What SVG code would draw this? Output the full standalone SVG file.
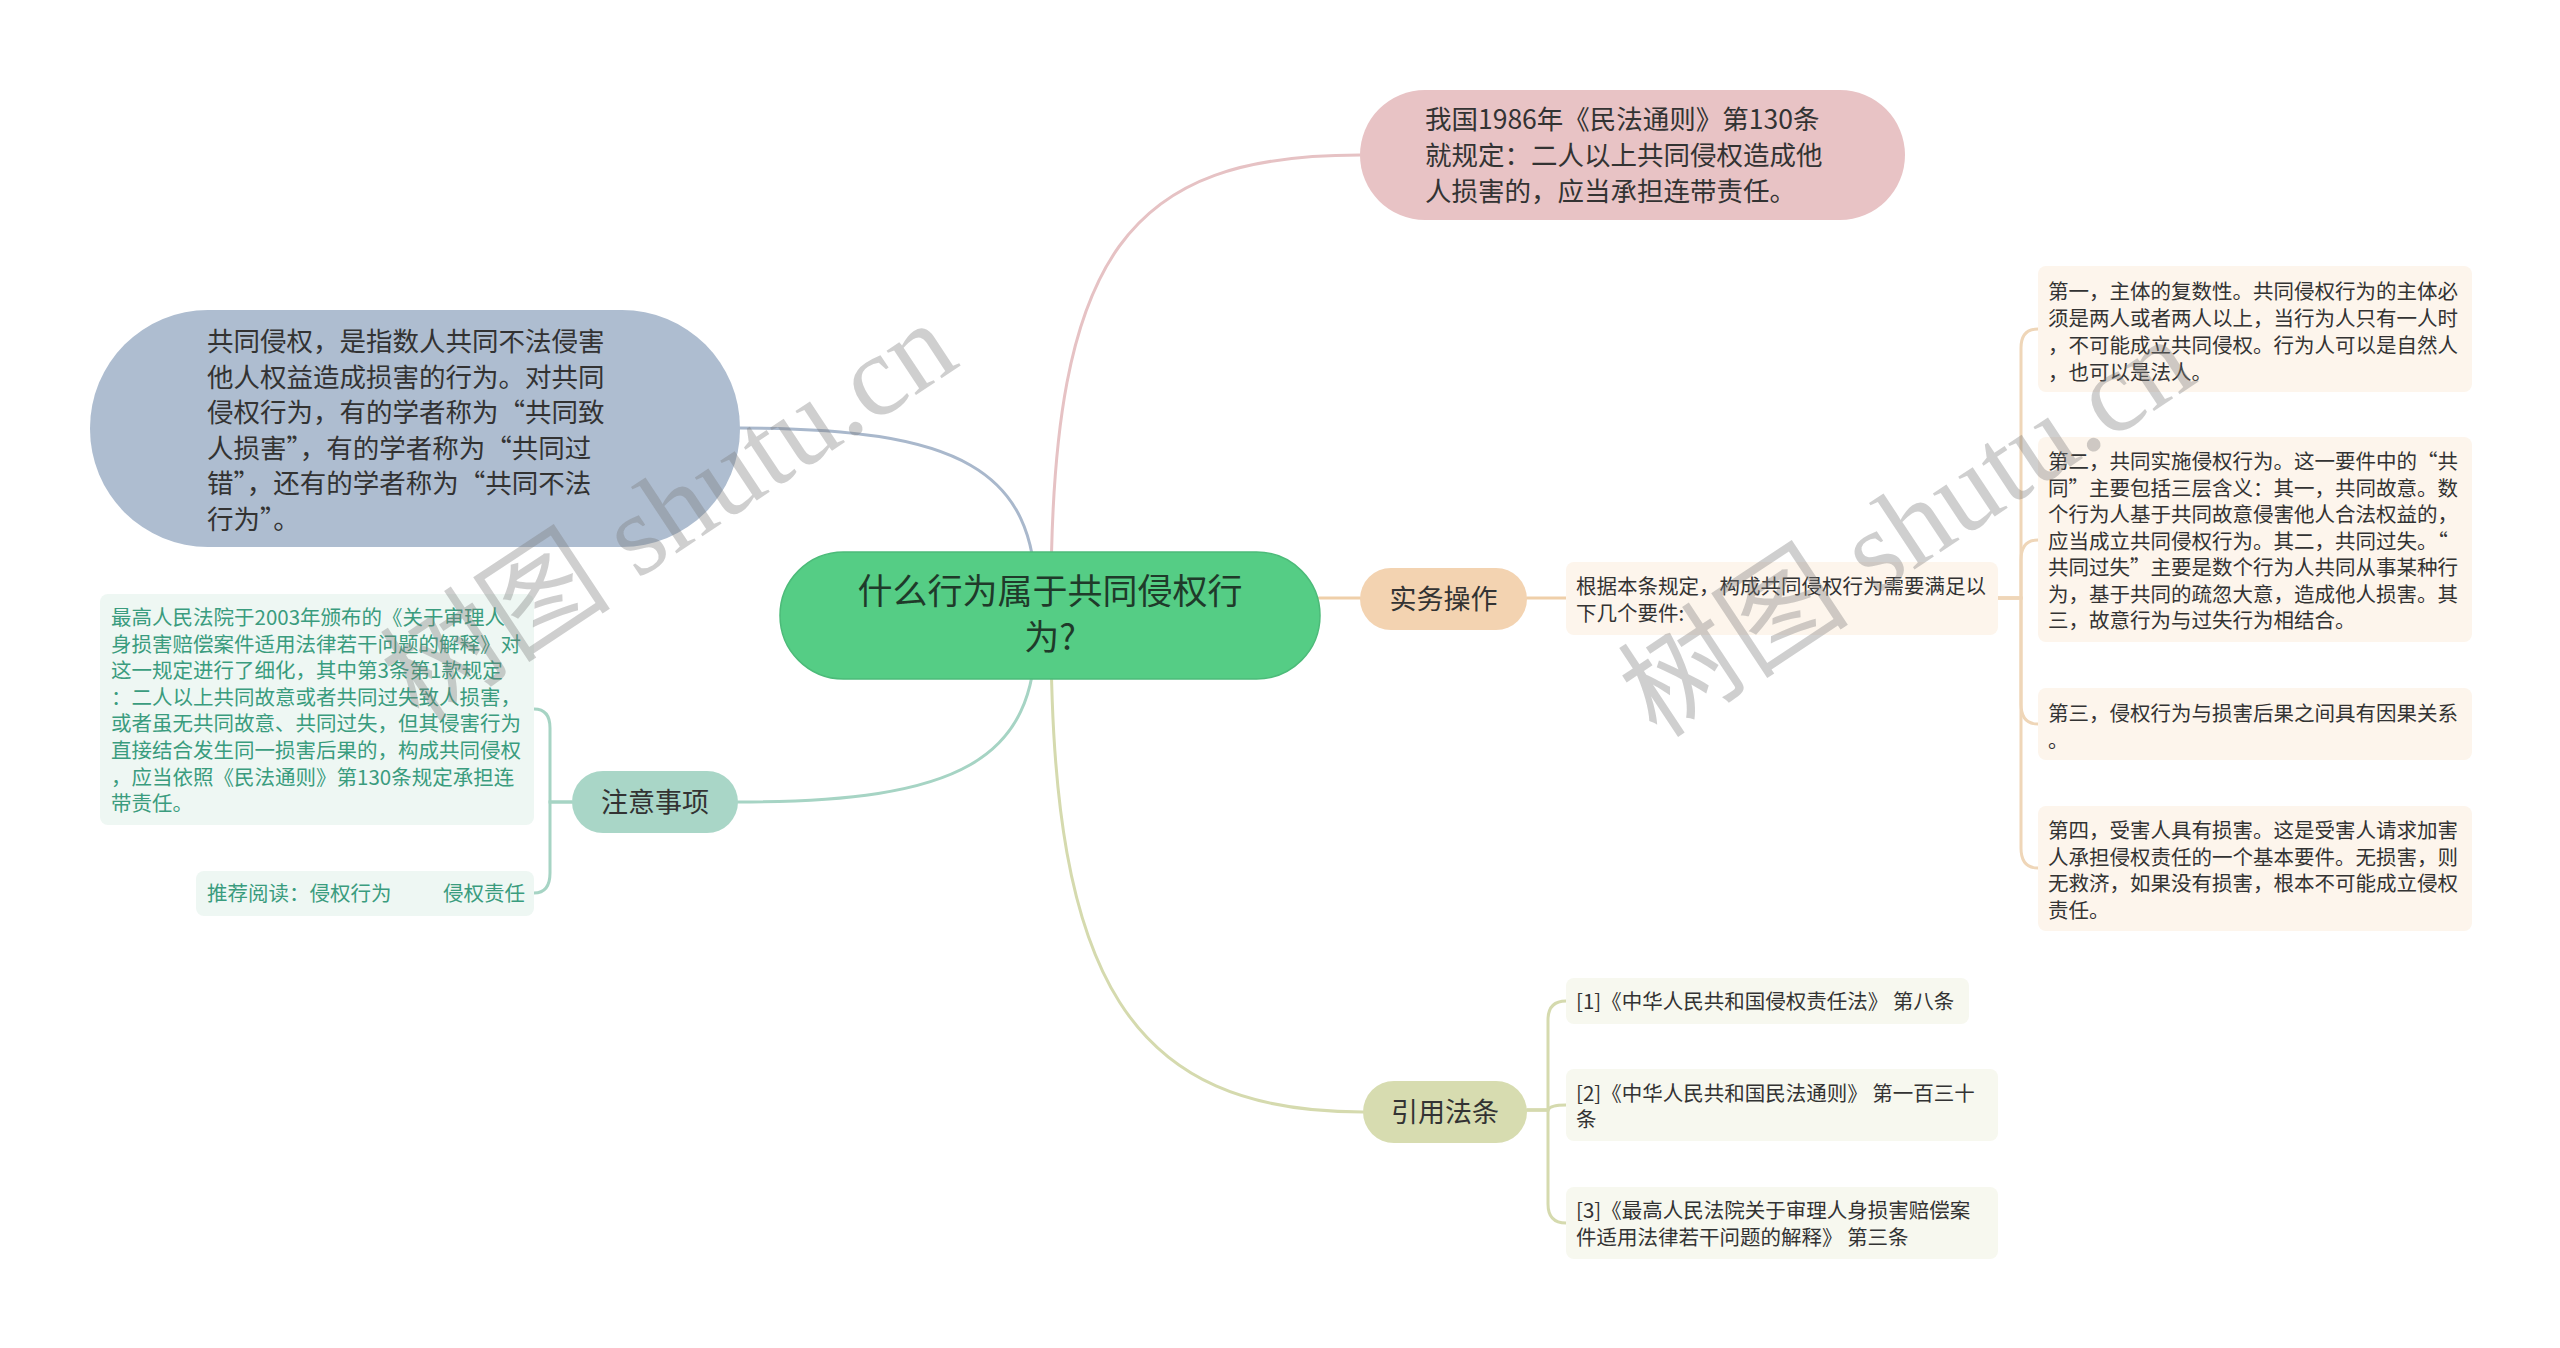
<svg xmlns="http://www.w3.org/2000/svg" width="2560" height="1348" viewBox="0 0 2560 1348">
<style>
text{font-family:"Noto Sans CJK SC","Noto Sans",sans-serif;}
.t26{font-size:26.5px;fill:#333333;}
.t27{font-size:27px;fill:#333333;text-anchor:middle;}
.t20{font-size:20.5px;fill:#333333;}
.tg{font-size:20.5px;fill:#3a9c7e;}
.ln{fill:none;stroke-width:3;stroke-linecap:round;}
.wm{font-family:"Liberation Serif","Noto Sans CJK SC",serif;font-size:116px;fill:#7a7a7a;fill-opacity:0.36;text-anchor:middle;}
</style>
<rect x="0" y="0" width="2560" height="1348" fill="#ffffff"/>
<g id="connectors">
<path class="ln" stroke="#e6c2c4" d="M1051,600 C1051,250 1130,155 1360,155"/>
<path class="ln" stroke="#a9b8cc" d="M1036,600 C1036,470 960,428 740,428"/>
<path class="ln" stroke="#efcfa9" d="M1319,598 L1360,598"/>
<path class="ln" stroke="#efcfa9" d="M1527,598 L1566,598"/>
<path class="ln" stroke="#a6d4c4" d="M1036,630 C1036,760 960,802 738,802"/>
<path class="ln" stroke="#d5daae" d="M1051,630 C1051,980 1130,1112 1363,1112"/>
<path class="ln" stroke="#efd6b8" d="M1998,598 H2021 V348 Q2021,329 2038,329"/>
<path class="ln" stroke="#efd6b8" d="M1998,598 H2021 V560 Q2021,540 2038,540"/>
<path class="ln" stroke="#efd6b8" d="M1998,598 H2021 V704 Q2021,724 2038,724"/>
<path class="ln" stroke="#efd6b8" d="M1998,598 H2021 V848 Q2021,868 2038,868"/>
<path class="ln" stroke="#a6d4c4" d="M572,802 H550 V728 Q550,709 534,709"/>
<path class="ln" stroke="#a6d4c4" d="M572,802 H550 V873 Q550,893 534,893"/>
<path class="ln" stroke="#d5daae" d="M1527,1110 H1548 V1020 Q1548,1001 1566,1001"/>
<path class="ln" stroke="#d5daae" d="M1527,1110 H1548 Q1550,1105 1566,1105"/>
<path class="ln" stroke="#d5daae" d="M1527,1110 H1548 V1204 Q1548,1223 1566,1223"/>
</g>
<g id="center">
<rect x="780" y="552" width="540" height="127" rx="63.5" fill="#55cd85" stroke="#4cbb79" stroke-width="1.5"/>
<text x="1050" y="604" style="font-size:35px;fill:#1f3a2a;text-anchor:middle;">什么行为属于共同侵权行</text>
<text x="1050" y="650" style="font-size:35px;fill:#1f3a2a;text-anchor:middle;">为?</text>
</g>
<g id="node-law130">
<rect x="1360" y="90" width="545" height="130" rx="65" fill="#e8c3c5"/>
<text class="t26" x="1425" y="129">我国1986年《民法通则》第130条</text>
<text class="t26" x="1425" y="165">就规定：二人以上共同侵权造成他</text>
<text class="t26" x="1425" y="201">人损害的，应当承担连带责任。</text>
</g>
<g id="node-definition">
<rect x="90" y="310" width="650" height="237" rx="118" fill="#aebdd0"/>
<text class="t26" x="207" y="351">共同侵权，是指数人共同不法侵害</text>
<text class="t26" x="207" y="387">他人权益造成损害的行为。对共同</text>
<text class="t26" x="207" y="422">侵权行为，有的学者称为“共同致</text>
<text class="t26" x="207" y="458">人损害”，有的学者称为“共同过</text>
<text class="t26" x="207" y="493">错”，还有的学者称为“共同不法</text>
<text class="t26" x="207" y="529">行为”。</text>
</g>
<g id="node-practice">
<rect x="1360" y="568" width="167" height="62" rx="31" fill="#f3d3b1"/>
<text class="t27" x="1443.5" y="609">实务操作</text>
</g>
<g id="node-requirements">
<rect x="1566" y="562" width="432" height="73" rx="8" fill="#fdf5ec"/>
<text class="t20" x="1576" y="594">根据本条规定，构成共同侵权行为需要满足以</text>
<text class="t20" x="1576" y="621">下几个要件:</text>
</g>
<g id="node-req1">
<rect x="2038" y="266" width="434" height="126" rx="8" fill="#fdf5ec"/>
<text class="t20" x="2048" y="299">第一，主体的复数性。共同侵权行为的主体必</text>
<text class="t20" x="2048" y="326">须是两人或者两人以上，当行为人只有一人时</text>
<text class="t20" x="2048" y="353">，不可能成立共同侵权。行为人可以是自然人</text>
<text class="t20" x="2048" y="380">，也可以是法人。</text>
</g>
<g id="node-req2">
<rect x="2038" y="437" width="434" height="205" rx="8" fill="#fdf5ec"/>
<text class="t20" x="2048" y="469">第二，共同实施侵权行为。这一要件中的“共</text>
<text class="t20" x="2048" y="495.5">同”主要包括三层含义：其一，共同故意。数</text>
<text class="t20" x="2048" y="522">个行为人基于共同故意侵害他人合法权益的，</text>
<text class="t20" x="2048" y="548.5">应当成立共同侵权行为。其二，共同过失。“</text>
<text class="t20" x="2048" y="575">共同过失”主要是数个行为人共同从事某种行</text>
<text class="t20" x="2048" y="601.5">为，基于共同的疏忽大意，造成他人损害。其</text>
<text class="t20" x="2048" y="628">三，故意行为与过失行为相结合。</text>
</g>
<g id="node-req3">
<rect x="2038" y="688" width="434" height="72" rx="8" fill="#fdf5ec"/>
<text class="t20" x="2048" y="721">第三，侵权行为与损害后果之间具有因果关系</text>
<text class="t20" x="2048" y="748">。</text>
</g>
<g id="node-req4">
<rect x="2038" y="806" width="434" height="125" rx="8" fill="#fdf5ec"/>
<text class="t20" x="2048" y="838">第四，受害人具有损害。这是受害人请求加害</text>
<text class="t20" x="2048" y="865">人承担侵权责任的一个基本要件。无损害，则</text>
<text class="t20" x="2048" y="891">无救济，如果没有损害，根本不可能成立侵权</text>
<text class="t20" x="2048" y="918">责任。</text>
</g>
<g id="node-notes">
<rect x="572" y="771" width="166" height="62" rx="31" fill="#a9d6c7"/>
<text class="t27" x="655" y="812">注意事项</text>
</g>
<g id="node-interpretation">
<rect x="100" y="594" width="434" height="231" rx="8" fill="#eef7f3"/>
<text class="tg" x="111" y="625">最高人民法院于2003年颁布的《关于审理人</text>
<text class="tg" x="111" y="651.6">身损害赔偿案件适用法律若干问题的解释》对</text>
<text class="tg" x="111" y="678.2">这一规定进行了细化，其中第3条第1款规定</text>
<text class="tg" x="111" y="704.8">：二人以上共同故意或者共同过失致人损害，</text>
<text class="tg" x="111" y="731.4">或者虽无共同故意、共同过失，但其侵害行为</text>
<text class="tg" x="111" y="758">直接结合发生同一损害后果的，构成共同侵权</text>
<text class="tg" x="111" y="784.6">，应当依照《民法通则》第130条规定承担连</text>
<text class="tg" x="111" y="811.2">带责任。</text>
</g>
<g id="node-reading">
<rect x="196" y="871" width="338" height="45" rx="8" fill="#eef7f3"/>
<text class="tg" x="207" y="901">推荐阅读：侵权行为</text>
<text class="tg" x="443" y="901">侵权责任</text>
</g>
<g id="node-citations">
<rect x="1363" y="1081" width="164" height="62" rx="31" fill="#d7dcb0"/>
<text class="t27" x="1445" y="1122">引用法条</text>
</g>
<g id="node-cite1">
<rect x="1566" y="978" width="403" height="46" rx="8" fill="#f7f8ef"/>
<text class="t20" x="1576" y="1009">[1]《中华人民共和国侵权责任法》 第八条</text>
</g>
<g id="node-cite2">
<rect x="1566" y="1069" width="432" height="72" rx="8" fill="#f7f8ef"/>
<text class="t20" x="1576" y="1101">[2]《中华人民共和国民法通则》 第一百三十</text>
<text class="t20" x="1576" y="1127">条</text>
</g>
<g id="node-cite3">
<rect x="1566" y="1187" width="432" height="72" rx="8" fill="#f7f8ef"/>
<text class="t20" x="1576" y="1218">[3]《最高人民法院关于审理人身损害赔偿案</text>
<text class="t20" x="1576" y="1245">件适用法律若干问题的解释》 第三条</text>
</g>
<g id="watermarks">
<text class="wm" x="668" y="551" transform="rotate(-33.5 668 510)">树图 shutu.cn</text>
<text class="wm" x="1906" y="567" transform="rotate(-33.5 1906 526)">树图 shutu.cn</text>
</g>
</svg>
